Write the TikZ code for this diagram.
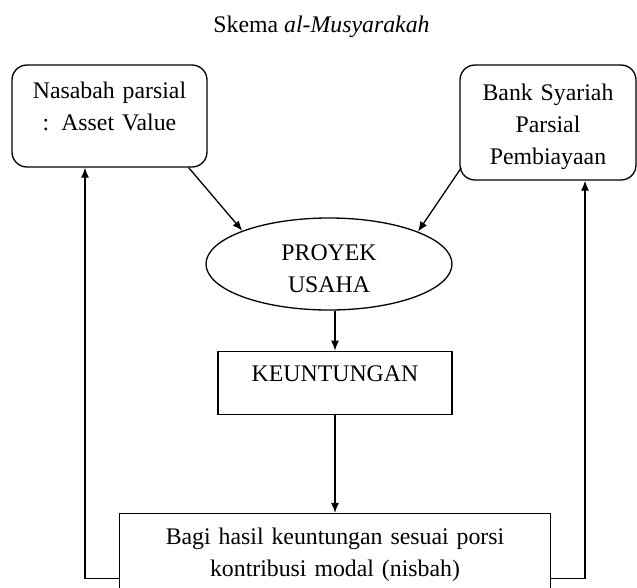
\documentclass[tikz,border=0pt]{standalone}
\usepackage{fontspec}
\setmainfont{Liberation Serif}
\usetikzlibrary{arrows.meta,
                calc,
                positioning,
                shapes.geometric}
\tikzset{
	%Define standard arrow tip
	>={Latex[length=10pt,width=8pt]},
	%Define style for boxes
	kotak/.style={
	       rectangle,
	       rounded corners=15pt,
	       draw=black, line width=1.3pt,
	       inner sep=0pt,
	       align=center},
	kotakb/.style={
	       rectangle,
	       draw=black, line width=1.3pt,
	       inner sep=0pt,
	       align=center},
	lonjong/.style={
	       ellipse,
	       draw=black, line width=1.3pt,
	       inner sep=0pt,
	       text width=120pt,
	       minimum width=246pt,
	       minimum height=92pt,
	       align=center},
	% Define arrow style
	panah/.style={
	       ->,
	       line width=1.3pt}
}
\begin{document}
\begin{tikzpicture}[x=1pt, y=-1pt, font=\fontsize{23.8}{32}\selectfont] % y grows downwards
		\path[use as bounding box, clip] (0,0) rectangle (637,587);
		\node[anchor=base](judul) at (321.5,32){Skema \textit{al-Musyarakah}};
		\node[lonjong, text height=20pt, text depth=28pt](proyek) at (329,264){PROYEK\\USAHA};
		\node[kotak, text width=195pt, text height=33pt, text depth=69pt](nasabah) at (109.5,116){Nasabah parsial\\: Asset Value};
		\draw[panah] ([xshift=-19pt]nasabah.south east) -- (proyek.159);
		\node[kotak, text width=176pt, text height=35pt, text depth=80pt](bank) at (548,122.5){Bank Syariah\\Parsial\\Pembiayaan};
		\draw[panah] ([xshift=2pt, yshift=13pt]bank.south west) -- (proyek.20);
		\node[kotakb, text width=234pt, text height=30pt, text depth=33pt, below=40pt of proyek, xshift=6pt](untung){KEUNTUNGAN}
		edge[panah, <-](untung.north |- proyek.south);
		\node[kotakb, text width=431pt, text height=31pt, text depth=69pt, below=98pt of untung](bagi_hasil){Bagi hasil keuntungan sesuai porsi\\kontribusi modal (nisbah)}
		edge[panah, <-](untung.south);
		% feedback lines
		\draw[panah] ([yshift=-15pt]bagi_hasil.west) -| ([xshift=-24.5pt]nasabah.south);
		\draw[panah] ([yshift=-15pt]bagi_hasil.east) -| ([xshift=37pt]bank.south);
	\end{tikzpicture}
\end{document}
